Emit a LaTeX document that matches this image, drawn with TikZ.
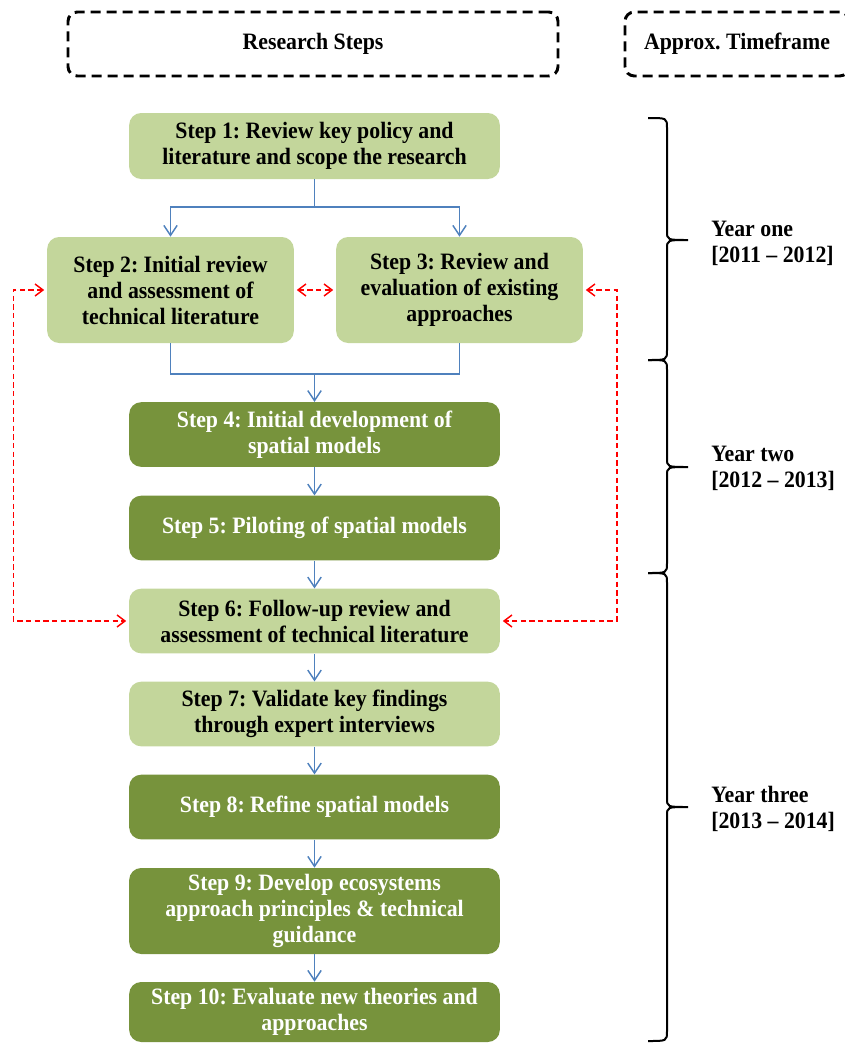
\documentclass[tikz,border=0pt]{standalone}
\usepackage{fontspec}
\setmainfont{Liberation Serif}[FakeStretch=0.93]
\usepackage{tikz}
\usetikzlibrary{arrows.meta}

\definecolor{lightgreen}{RGB}{195,214,155}
\definecolor{darkgreen}{RGB}{119,147,60}
\definecolor{flowblue}{RGB}{79,129,189}

\tikzset{
    box/.style={rounded corners=9pt, inner sep=0pt, align=center,
        font=\bfseries\fontsize{17.6}{19.5}\selectfont},
    lightstep/.style={box, fill=lightgreen, text=black},
    darkstep/.style={box, fill=darkgreen, text=white},
    header/.style={draw=black, line width=2.2pt, dash pattern=on 7.5pt off 4.5pt,
        rounded corners=7pt, inner sep=0pt, font=\bfseries\fontsize{17.6}{19.5}\selectfont},
    flow/.style={draw=flowblue, line width=1.1pt, -{Straight Barb[length=7.5pt,width=10pt]}},
    feedback/.style={draw=red, line width=1.1pt, dash pattern=on 4pt off 2.5pt,
        {Straight Barb[length=6pt,width=9pt]}-{Straight Barb[length=6pt,width=9pt]}},
    yearlabel/.style={anchor=west, align=left, inner sep=0pt,
        font=\bfseries\fontsize{17.6}{19.5}\selectfont}
}

\begin{document}
\frenchspacing
\begin{tikzpicture}[x=0.75pt, y=-0.75pt]
    \useasboundingbox (0,0) rectangle (844,1043);

    % headers
    \node[header, minimum width=367.5pt, minimum height=48pt] (steps) at (313,44) {Research Steps};
    \node[header, minimum width=168pt, minimum height=48pt] (timeframe) at (737,44) {};
    \node[font=\bfseries\fontsize{17.6}{19.5}\selectfont] (timetext) at (737,44) {Approx. Timeframe};

    % steps
    \node[lightstep, minimum width=278pt, minimum height=49.5pt] (step1) at (314.5,146)
        {Step 1: Review key policy and\\literature and scope the research};
    \node[lightstep, minimum width=185pt, minimum height=79.5pt] (step2) at (170.5,290)
        {Step 2: Initial review\\and assessment of\\technical literature};
    \node[lightstep, minimum width=185pt, minimum height=79.5pt] (step3) at (459.5,290)
        {Step 3: Review and\\evaluation of existing\\approaches};
    \node[darkstep, minimum width=278pt, minimum height=48.5pt] (step4) at (314.5,434.5)
        {Step 4: Initial development of\\spatial models};
    \node[darkstep, minimum width=278pt, minimum height=48.5pt] (step5) at (314.5,528)
        {Step 5: Piloting of spatial models};
    \node[lightstep, minimum width=278pt, minimum height=48.5pt] (step6) at (314.5,621)
        {Step 6: Follow-up review and\\assessment of technical literature};
    \node[lightstep, minimum width=278pt, minimum height=48.5pt] (step7) at (314.5,714)
        {Step 7: Validate key findings\\through expert interviews};
    \node[darkstep, minimum width=278pt, minimum height=48.5pt] (step8) at (314.5,807)
        {Step 8: Refine spatial models};
    \node[darkstep, minimum width=278pt, minimum height=64.5pt] (step9) at (314.5,911)
        {Step 9: Develop ecosystems\\approach principles \& technical\\guidance};
    \node[darkstep, minimum width=278pt, minimum height=45pt] (step10) at (314.5,1012)
        {Step 10: Evaluate new theories and\\approaches};

    % blue flow
    \coordinate (split) at (314.5,207);
    \coordinate (merge) at (314.5,374);
    \draw[draw=flowblue, line width=1.1pt] (step1.south) -- (split);
    \draw[flow] (split) -| (step2.north);
    \draw[flow] (split) -| (step3.north);
    \draw[draw=flowblue, line width=1.1pt] (step2.south) |- (merge) -| (step3.south);
    \draw[flow] (merge) -- (step4.north);
    \draw[flow] (step4) -- (step5);
    \draw[flow] (step5) -- (step6);
    \draw[flow] (step6) -- (step7);
    \draw[flow] (step7) -- (step8);
    \draw[flow] (step8) -- (step9);
    \draw[flow] (step9) -- (step10);

    % red feedback
    \draw[feedback] ([xshift=2pt]step2.east) -- ([xshift=-2pt]step3.west);
    \draw[feedback] ([xshift=-2pt]step2.west) -- ++(-31,0) |- ([xshift=-2pt]step6.west);
    \draw[feedback] ([xshift=2pt]step3.east) -- ++(31,0) |- ([xshift=2pt]step6.east);

    % braces for the years
    \foreach \ya/\yb/\yc in {118/240/360, 360/467/573, 573/807/1041}
        \draw[line width=1.5pt] (648,\ya) .. controls (667,\ya) .. (667,\ya+10) -- (667,\yb-9)
            .. controls (667,\yb) .. (688,\yb) .. controls (667,\yb) .. (667,\yb+9)
            -- (667,\yc-10) .. controls (667,\yc) .. (648,\yc);

    \node[yearlabel] (year1) at (711,243.5) {Year one\\{[2011 -- 2012]}};
    \node[yearlabel] (year2) at (711,468) {Year two\\{[2012 -- 2013]}};
    \node[yearlabel] (year3) at (711,808.5) {Year three\\{[2013 -- 2014]}};
\end{tikzpicture}
\end{document}
